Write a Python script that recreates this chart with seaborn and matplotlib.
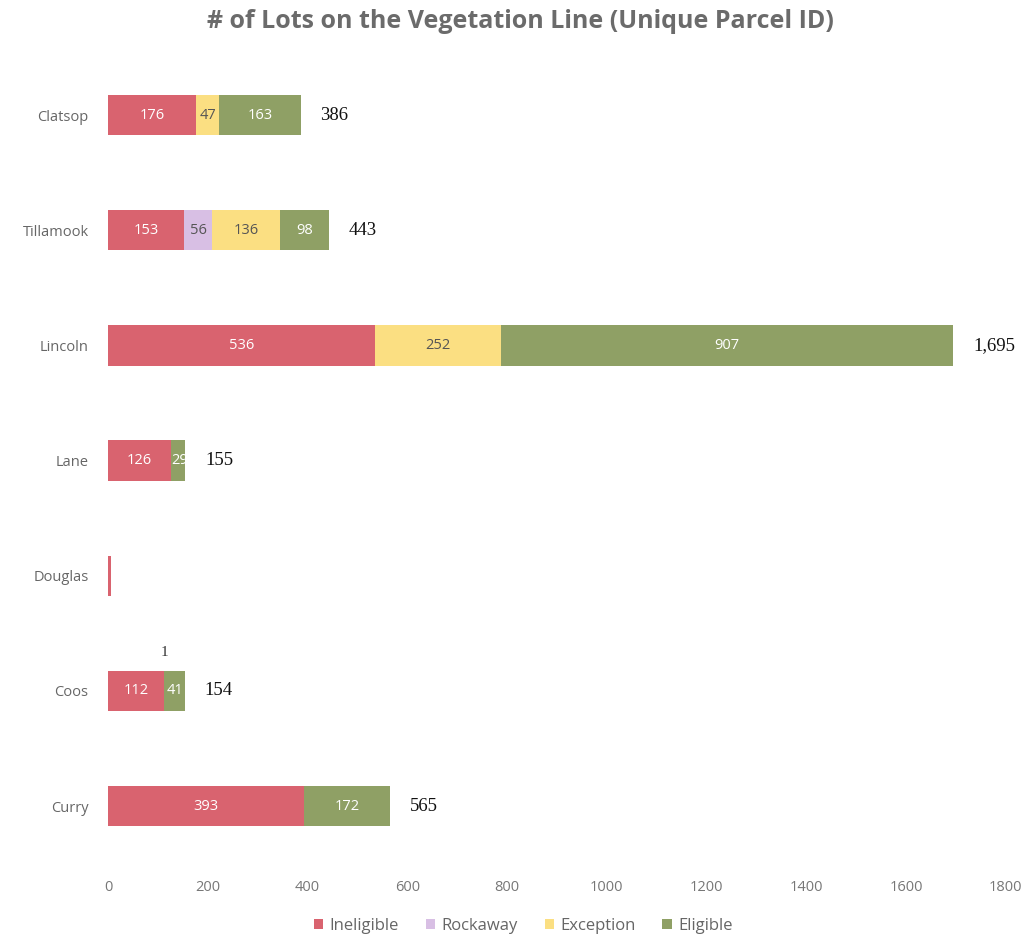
import numpy as np
import pandas as pd
import matplotlib
matplotlib.use("Agg")
import matplotlib.pyplot as plt
import seaborn as sns
from matplotlib.patches import Patch

# chart data
counties = ["Clatsop", "Tillamook", "Lincoln", "Lane", "Douglas", "Coos", "Curry"]
ineligible = [176, 153, 536, 126, 6, 112, 393]
rockaway = [0, 56, 0, 0, 0, 0, 0]
exception = [47, 136, 252, 0, 0, 1, 0]
eligible = [163, 98, 907, 29, 0, 41, 172]
totals = [386, 443, 1695, 155, None, 154, 565]

series_names = ["Ineligible", "Rockaway", "Exception", "Eligible"]
colors = ["#d9636f", "#d8bfe4", "#fbdf82", "#8fa065"]
label_colors = ["white", "#555555", "#555555", "white"]

sns.set_theme(style="white")
plt.rcParams['font.family'] = ['Open Sans', 'DejaVu Sans']

df = pd.DataFrame({"county": counties, "Ineligible": ineligible, "Rockaway": rockaway,
                   "Exception": exception, "Eligible": eligible})
cum = df[series_names].cumsum(axis=1)

fig = plt.figure(figsize=(10.26, 9.34), dpi=100)
ax = fig.add_axes([0.1053, 0.0754, 0.875, 0.863])

# draw cumulative bars from largest to smallest so they stack
for i in range(len(series_names) - 1, -1, -1):
    sns.barplot(x=cum[series_names[i]], y=df["county"], color=colors[i], orient="h",
                width=0.35, ax=ax, saturation=1, linewidth=0)

# segment labels
for j, c in enumerate(counties):
    start = 0
    for i, s in enumerate(series_names):
        v = df.loc[j, s]
        if v > 0 and c != "Douglas":
            mid = start + v / 2
            if c == "Coos" and s == "Exception":
                ax.text(mid, j - 0.33, str(v), ha="center", va="center",
                        fontsize=11, color="#333333", family="Liberation Serif")
            else:
                t = ax.text(mid, j, str(v), ha="center", va="center",
                            fontsize=10.5, color=label_colors[i])
                if c == "Lane" and s == "Eligible":
                    t.set_position((mid + 4, j))
        start += v
    if totals[j] is not None:
        ax.text(cum.loc[j, "Eligible"] + 40, j, f"{totals[j]:,}", ha="left", va="center",
                fontsize=13.5, color="#111111", family="Liberation Serif")

ax.set_xlim(0, 1800)
ax.set_ylim(6.5, -0.5)
ax.set_xticks(range(0, 1801, 200))
ax.set_xlabel("")
ax.set_ylabel("")
ax.tick_params(axis="x", labelsize=10.5, labelcolor="#777777", pad=12, length=0)
ax.tick_params(axis="y", labelsize=10.5, labelcolor="#666666", pad=14, length=0)
sns.despine(ax=ax, left=True, bottom=True)
ax.grid(False)

fig.suptitle("# of Lots on the Vegetation Line (Unique Parcel ID)", x=0.507, y=0.99,
             fontsize=18, fontweight="bold", color="#6b6b6b")

handles = [Patch(facecolor=c, edgecolor="none") for c in colors]
fig.legend(handles, series_names, loc="lower center", bbox_to_anchor=(0.51, -0.016),
           ncol=4, frameon=False, fontsize=12, labelcolor="#666666",
           handlelength=0.55, handleheight=0.55, columnspacing=1.6, handletextpad=0.4)

fig.savefig("out.png", dpi=100)
